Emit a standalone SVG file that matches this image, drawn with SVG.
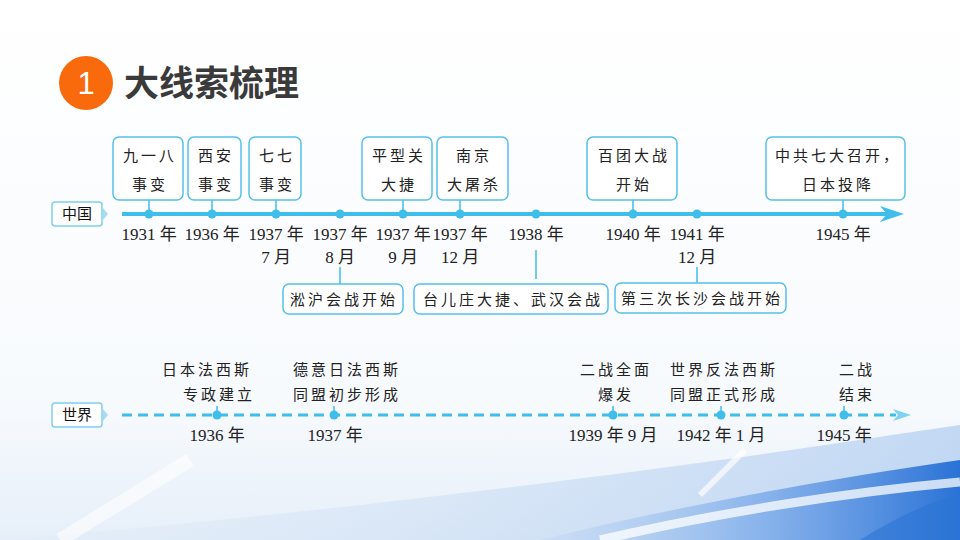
<svg xmlns="http://www.w3.org/2000/svg" width="960" height="540" viewBox="0 0 960 540">
<defs>
<linearGradient id="bg1" x1="0" y1="0" x2="0" y2="1">
<stop offset="0" stop-color="#ffffff"/>
<stop offset="0.75" stop-color="#f7fafd"/>
<stop offset="1" stop-color="#e6eff9"/>
</linearGradient>
<linearGradient id="sw1" x1="0" y1="0" x2="1" y2="0">
<stop offset="0" stop-color="#b9d3f1" stop-opacity="0.3"/>
<stop offset="0.5" stop-color="#7fadeb" stop-opacity="0.8"/>
<stop offset="1" stop-color="#2a72d6"/>
</linearGradient>
<linearGradient id="sw2" x1="0" y1="0" x2="1" y2="0">
<stop offset="0" stop-color="#dbe8f7" stop-opacity="0.3"/>
<stop offset="0.5" stop-color="#bcd4f1" stop-opacity="0.7"/>
<stop offset="1" stop-color="#8db6ea" stop-opacity="0.8"/>
</linearGradient>
<style>
.box{fill:#ffffff;stroke:#55c0ea;stroke-width:1.5}
.tag{fill:#ffffff;stroke:#7fd0f0;stroke-width:1.5}
.cn{font-family:"Noto Sans CJK SC","Noto Sans",sans-serif;font-size:15px;fill:#222;letter-spacing:3px;text-anchor:middle}
.yr{font-family:"Liberation Serif","Noto Sans CJK SC",serif;font-size:17px;fill:#222;text-anchor:middle}
.lbl{font-family:"Noto Sans CJK SC",sans-serif;font-size:15px;fill:#111;text-anchor:middle}
.dot{fill:#3fbdeb}
.tick{stroke:#3fbdeb;stroke-width:1.5}
</style>
</defs>
<rect width="960" height="540" fill="url(#bg1)"/>
<g id="background">
<path d="M0,540 C250,520 500,490 720,460 C830,445 910,432 960,425 L960,540 Z" fill="url(#sw2)" opacity="0.6"/>
<path d="M540,540 C660,510 820,480 960,460 L960,540 Z" fill="url(#sw1)"/>
<path d="M600,540 C720,512 850,492 960,482" fill="none" stroke="#ffffff" stroke-width="9" opacity="0.75"/>
<path d="M700,495 L745,450" stroke="#ffffff" stroke-width="6" opacity="0.7"/>
<path d="M60,540 L190,460" stroke="#ffffff" stroke-width="14" opacity="0.6"/>
<path d="M860,540 C900,515 935,500 960,495 L960,540 Z" fill="#2b75d3" opacity="0.6"/>
</g>
<g id="title">
<circle cx="86" cy="83" r="27" fill="#f96a0d"/>
<text x="86" y="94" font-family="Liberation Sans,Arial,sans-serif" font-size="31" fill="#ffffff" text-anchor="middle">1</text>
<text x="124" y="96" font-family="'Noto Sans CJK SC',sans-serif" font-weight="bold" font-size="35" fill="#3a3a3a">大线索梳理</text>
</g>
<g id="connectors">
<line x1="122" y1="214" x2="890" y2="214" stroke="#3fbdeb" stroke-width="4"/>
<path d="M880,206 L904,214 L880,222 L887,214 Z" fill="#3fbdeb"/>
<line x1="122" y1="415" x2="896" y2="415" stroke="#3fbdeb" stroke-width="3" stroke-dasharray="10,6"/>
<path d="M893,409 L911,415 L893,421 L898,415 Z" fill="#7fd2f3"/>
<line class="tick" x1="149" y1="200" x2="149" y2="214"/>
<line class="tick" x1="212" y1="200" x2="212" y2="214"/>
<line class="tick" x1="276" y1="200" x2="276" y2="214"/>
<line class="tick" x1="403" y1="200" x2="403" y2="214"/>
<line class="tick" x1="460" y1="200" x2="460" y2="214"/>
<line class="tick" x1="633" y1="200" x2="633" y2="214"/>
<line class="tick" x1="843" y1="200" x2="843" y2="214"/>
<line class="tick" x1="340" y1="267" x2="340" y2="284"/>
<line class="tick" x1="536" y1="250" x2="536" y2="279"/>
<line class="tick" x1="697" y1="267" x2="697" y2="283"/>
<line class="tick" x1="217" y1="406" x2="217" y2="415"/>
<line class="tick" x1="334" y1="406" x2="334" y2="415"/>
<line class="tick" x1="613" y1="406" x2="613" y2="415"/>
<line class="tick" x1="721" y1="406" x2="721" y2="415"/>
<line class="tick" x1="844" y1="406" x2="844" y2="415"/>
</g>
<g id="label-china">
<rect class="tag" x="52" y="202" width="50" height="24" rx="3"/>
<path d="M103,208 L108,214 L103,220 Z" fill="#a9dcf2"/>
<text class="lbl" x="77" y="219">中国</text>
</g>
<g id="label-world">
<rect class="tag" x="52" y="403" width="50" height="24" rx="3"/>
<path d="M103,409 L108,415 L103,421 Z" fill="#a9dcf2"/>
<text class="lbl" x="77" y="420">世界</text>
</g>
<g id="dots-china">
<circle class="dot" cx="149" cy="214" r="4.5"/>
<circle class="dot" cx="212" cy="214" r="4.5"/>
<circle class="dot" cx="276" cy="214" r="4.5"/>
<circle class="dot" cx="340" cy="214" r="4.5"/>
<circle class="dot" cx="403" cy="214" r="4.5"/>
<circle class="dot" cx="460" cy="214" r="4.5"/>
<circle class="dot" cx="536" cy="214" r="4.5"/>
<circle class="dot" cx="633" cy="214" r="4.5"/>
<circle class="dot" cx="697" cy="214" r="4.5"/>
<circle class="dot" cx="843" cy="214" r="4.5"/>
</g>
<g id="n1931">
<rect class="box" x="113" y="137" width="70" height="63" rx="6"/>
<text class="cn" x="150" y="161">九一八</text>
<text class="cn" x="150" y="190">事变</text>
<text class="yr" x="149" y="240">1931 年</text>
</g>
<g id="n1936">
<rect class="box" x="188" y="137" width="53" height="63" rx="6"/>
<text class="cn" x="216" y="161">西安</text>
<text class="cn" x="216" y="190">事变</text>
<text class="yr" x="212" y="240">1936 年</text>
</g>
<g id="n1937-7">
<rect class="box" x="249" y="137" width="52" height="63" rx="6"/>
<text class="cn" x="277" y="161">七七</text>
<text class="cn" x="277" y="190">事变</text>
<text class="yr" x="276" y="240">1937 年</text>
<text class="yr" x="276" y="263">7 月</text>
</g>
<g id="n1937-8">
<text class="yr" x="340" y="240">1937 年</text>
<text class="yr" x="340" y="263">8 月</text>
<rect class="box" x="283" y="284" width="120" height="30" rx="6"/>
<text class="cn" x="344" y="305">淞沪会战开始</text>
</g>
<g id="n1937-9">
<rect class="box" x="362" y="137" width="70" height="63" rx="6"/>
<text class="cn" x="399" y="161">平型关</text>
<text class="cn" x="399" y="190">大捷</text>
<text class="yr" x="403" y="240">1937 年</text>
<text class="yr" x="403" y="263">9 月</text>
</g>
<g id="n1937-12">
<rect class="box" x="437" y="137" width="71" height="63" rx="6"/>
<text class="cn" x="474" y="161">南京</text>
<text class="cn" x="474" y="190">大屠杀</text>
<text class="yr" x="460" y="240">1937 年</text>
<text class="yr" x="460" y="263">12 月</text>
</g>
<g id="n1938">
<text class="yr" x="536" y="240">1938 年</text>
<rect class="box" x="414" y="284" width="194" height="30" rx="6"/>
<text class="cn" x="513" y="305">台儿庄大捷、武汉会战</text>
</g>
<g id="n1940">
<rect class="box" x="587" y="137" width="90" height="63" rx="6"/>
<text class="cn" x="634" y="161">百团大战</text>
<text class="cn" x="634" y="190">开始</text>
<text class="yr" x="633" y="240">1940 年</text>
</g>
<g id="n1941">
<text class="yr" x="697" y="240">1941 年</text>
<text class="yr" x="697" y="263">12 月</text>
<rect class="box" x="615" y="283" width="171" height="30" rx="6"/>
<text class="cn" x="702" y="304">第三次长沙会战开始</text>
</g>
<g id="n1945">
<rect class="box" x="766" y="137" width="139" height="63" rx="6"/>
<text class="cn" x="838" y="161">中共七大召开，</text>
<text class="cn" x="838" y="190">日本投降</text>
<text class="yr" x="843" y="240">1945 年</text>
</g>
<g id="dots-world">
<circle class="dot" cx="217" cy="415" r="4.5"/>
<circle class="dot" cx="334" cy="415" r="4.5"/>
<circle class="dot" cx="613" cy="415" r="4.5"/>
<circle class="dot" cx="721" cy="415" r="4.5"/>
<circle class="dot" cx="844" cy="415" r="4.5"/>
</g>
<g id="w1936">
<text class="cn" x="207" y="375">日本法西斯</text>
<text class="cn" x="219" y="400">专政建立</text>
<text class="yr" x="217" y="441">1936 年</text>
</g>
<g id="w1937">
<text class="cn" x="347" y="375">德意日法西斯</text>
<text class="cn" x="347" y="400">同盟初步形成</text>
<text class="yr" x="335" y="441">1937 年</text>
</g>
<g id="w1939">
<text class="cn" x="616" y="375">二战全面</text>
<text class="cn" x="616" y="400">爆发</text>
<text class="yr" x="613" y="441">1939 年 9 月</text>
</g>
<g id="w1942">
<text class="cn" x="724" y="375">世界反法西斯</text>
<text class="cn" x="724" y="400">同盟正式形成</text>
<text class="yr" x="721" y="441">1942 年 1 月</text>
</g>
<g id="w1945">
<text class="cn" x="857" y="375">二战</text>
<text class="cn" x="857" y="400">结束</text>
<text class="yr" x="844" y="441">1945 年</text>
</g>
</svg>
